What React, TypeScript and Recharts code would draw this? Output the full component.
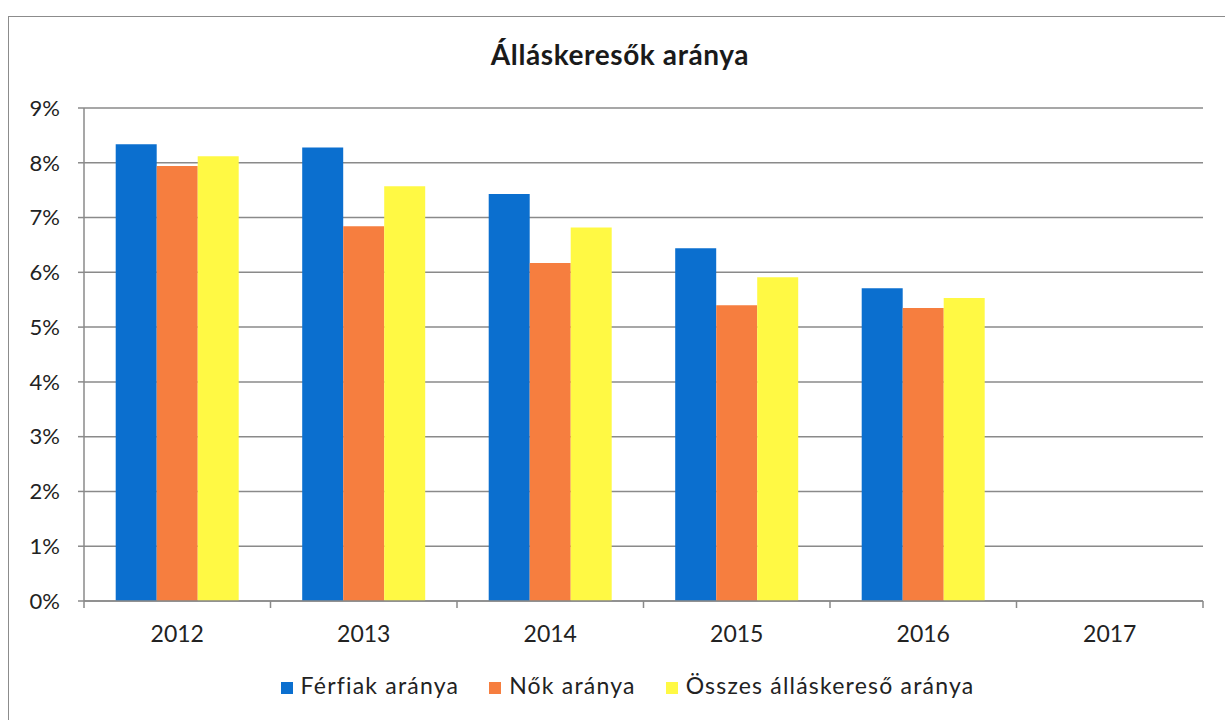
import { BarChart, Bar, XAxis, YAxis, CartesianGrid, Legend } from 'recharts';

const years = ['2012', '2013', '2014', '2015', '2016', '2017'];
const ferfiak = [8.34, 8.28, 7.43, 6.44, 5.71, null];
const nok = [7.94, 6.84, 6.17, 5.4, 5.35, null];
const osszes = [8.12, 7.57, 6.82, 5.91, 5.53, null];
const yTicks = [0, 1, 2, 3, 4, 5, 6, 7, 8, 9];

const data = years.map((year, i) => ({
  year,
  ferfiak: ferfiak[i],
  nok: nok[i],
  osszes: osszes[i],
}));

const W = 1225;
const H = 720;
const PLOT_LEFT = 84;
const PLOT_RIGHT = 1203;
const STEP = (PLOT_RIGHT - PLOT_LEFT) / years.length;
const FONT = 'Lato, "Open Sans", sans-serif';
const AXIS = '#8a8a8a';

function YearTick(props: any) {
  const { x, y, payload, index } = props;
  const half = STEP / 2;
  return (
    <g>
      <line x1={x - half} x2={x - half} y1={y - 8} y2={y - 1} stroke={AXIS} strokeWidth={1.5} />
      {index === years.length - 1 && (
        <line x1={x + half} x2={x + half} y1={y - 8} y2={y - 1} stroke={AXIS} strokeWidth={1.5} />
      )}
      <text x={x} y={y + 33} textAnchor="middle" fill="#222" fontSize={23} fontFamily={FONT}>
        {payload.value}
      </text>
    </g>
  );
}

export default function App() {
  return (
    <div style={{ position: 'absolute', left: 0, top: 0, width: W, height: H, background: '#fff', overflow: 'hidden' }}>
      <div
        style={{
          position: 'absolute',
          left: 8,
          top: 16,
          width: 1260,
          height: 760,
          border: '1.5px solid #8c8c8c',
        }}
      />
      <div
        style={{
          position: 'absolute',
          left: 0,
          top: 37,
          width: 1240,
          textAlign: 'center',
          fontFamily: FONT,
          fontWeight: 700,
          fontSize: 28,
          letterSpacing: 0.6,
          color: '#1a1a1a',
        }}
      >
        Álláskeresők aránya
      </div>
      <div style={{ position: 'absolute', left: 0, top: 0 }}>
        <BarChart
          width={W}
          height={H}
          data={data}
          margin={{ top: 108, right: W - PLOT_RIGHT, bottom: 0, left: 0 }}
          barCategoryGap="17%"
          barGap={0}
          style={{ fontFamily: FONT }}
        >
          <CartesianGrid vertical={false} stroke={AXIS} strokeWidth={1.5} />
          <XAxis
            dataKey="year"
            axisLine={{ stroke: AXIS, strokeWidth: 1.5 }}
            tickLine={false}
            tick={<YearTick />}
            height={70}
            interval={0}
          />
          <YAxis
            width={PLOT_LEFT}
            domain={[0, 9]}
            ticks={yTicks}
            tickFormatter={(v: number) => `${v}%`}
            axisLine={{ stroke: AXIS, strokeWidth: 1.5 }}
            tickLine={{ stroke: AXIS, strokeWidth: 1.5 }}
            tickSize={6}
            tick={{ fill: '#222', fontSize: 22, fontFamily: FONT, dx: -16 }}
          />
          <Legend
            verticalAlign="bottom"
            iconType="square"
            iconSize={12}
            height={49}
            wrapperStyle={{ fontSize: 23, letterSpacing: 1.2, color: '#222', fontFamily: FONT, left: 41 }}
            formatter={(value: string) => (
              <span style={{ color: '#222', paddingLeft: 4, paddingRight: 20 }}>{value}</span>
            )}
          />
          <Bar dataKey="ferfiak" name="Férfiak aránya" fill="#0B6FCF" isAnimationActive={false} />
          <Bar dataKey="nok" name="Nők aránya" fill="#F67E3F" isAnimationActive={false} />
          <Bar dataKey="osszes" name="Összes álláskereső aránya" fill="#FFF944" isAnimationActive={false} />
        </BarChart>
      </div>
    </div>
  );
}
